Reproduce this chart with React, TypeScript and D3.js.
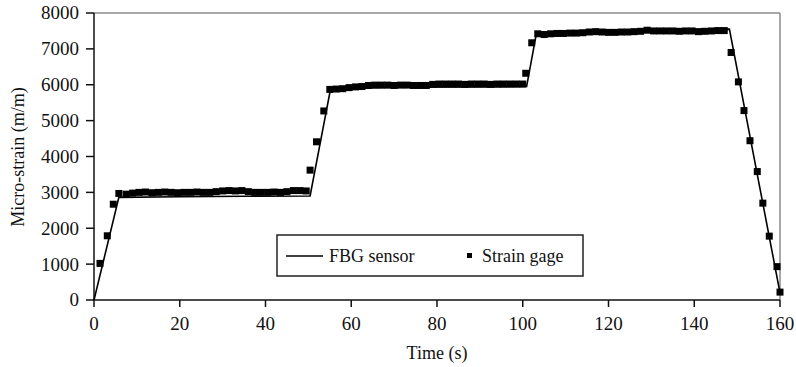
import React, { useEffect } from "react";
import * as d3 from "d3";

const xTicks = [0, 20, 40, 60, 80, 100, 120, 140, 160];
const yTicks = [0, 1000, 2000, 3000, 4000, 5000, 6000, 7000, 8000];

const fbgTime = [0, 5.8, 20, 35, 50.4, 55.2, 70, 85, 100.9, 103.2, 120, 135, 148.2, 160];
const fbgStrain = [0, 2860, 2880, 2890, 2900, 5900, 5930, 5940, 5950, 7440, 7490, 7530, 7550, 200];

const gageTime = [
  1.4, 3.1, 4.5, 5.8,
  7.5, 9, 10.5, 12, 13.5, 15, 16.5, 18, 19.5, 21, 22.5, 24, 25.5, 27, 28.5, 30, 31.5, 33, 34.5, 36, 37.5, 39, 40.5, 42, 43.5, 45, 46.5, 48, 49.5,
  50.4, 51.9, 53.6, 55,
  56.5, 58, 59.5, 61, 62.5, 64, 65.5, 67, 68.5, 70, 71.5, 73, 74.5, 76, 77.5, 79, 80.5, 82, 83.5, 85, 86.5, 88, 89.5, 91, 92.5, 94, 95.5, 97, 98.5, 100,
  100.7, 102.1, 103.5,
  105, 106.5, 108, 109.5, 111, 112.5, 114, 115.5, 117, 118.5, 120, 121.5, 123, 124.5, 126, 127.5, 129, 130.5, 132, 133.5, 135, 136.5, 138, 139.5, 141, 142.5, 144, 145.5, 147,
  148.6, 150.3, 151.6, 153, 154.7, 156, 157.5, 159.3, 160,
];
const gageStrain = [
  1020, 1790, 2670, 2970,
  2950, 2980, 3000, 3010, 2990, 3000, 3010, 3000, 2990, 3000, 3000, 3010, 3000, 3000, 3020, 3040, 3050, 3040, 3050, 3020, 3000, 3000, 3000, 3010, 3000, 3020, 3050, 3050, 3040,
  3620, 4410, 5270, 5870,
  5880, 5890, 5920, 5940, 5950, 5980, 5990, 5990, 5990, 5980, 5990, 5990, 5980, 5980, 5980, 6010, 6020, 6020, 6020, 6020, 6010, 6020, 6020, 6020, 6010, 6020, 6020, 6020, 6020, 6020,
  6320, 7170, 7420,
  7400, 7420, 7430, 7430, 7440, 7440, 7450, 7470, 7480, 7470, 7460, 7460, 7470, 7470, 7480, 7490, 7520, 7500, 7500, 7500, 7500, 7490, 7500, 7500, 7480, 7490, 7500, 7510, 7510,
  6900, 6080, 5280, 4440, 3580, 2700, 1780, 930, 220,
];

const W = 796;
const H = 367;
const left = 94;
const right = 780;
const top = 13;
const bottom = 300;
const FONT = "'Liberation Serif', 'Times New Roman', serif";

export default function App() {
  useEffect(() => {
    document.body.style.margin = "0";
  }, []);

  const x = d3.scaleLinear().domain([0, 160]).range([left, right]);
  const y = d3.scaleLinear().domain([0, 8000]).range([bottom, top]);

  const fbg = fbgTime.map((t, i) => [t, fbgStrain[i]] as [number, number]);
  const gage = gageTime.map((t, i) => [t, gageStrain[i]] as [number, number]);

  const line = d3
    .line<[number, number]>()
    .x((d) => x(d[0]))
    .y((d) => y(d[1]));

  const sq = 7;

  return (
    <svg width={W} height={H} style={{ display: "block", background: "#fff" }} fontFamily={FONT}>
      <rect x={0} y={0} width={W} height={H} fill="#fff" />
      {/* frame */}
      <line x1={left} x2={right} y1={top} y2={top} stroke="#8a8a8a" strokeWidth={1.5} />
      <line x1={right} x2={right} y1={top} y2={bottom} stroke="#8a8a8a" strokeWidth={1.5} />
      {/* axes */}
      <line x1={left} x2={left} y1={top} y2={bottom} stroke="#111" strokeWidth={1.5} />
      <line x1={left} x2={right} y1={bottom} y2={bottom} stroke="#111" strokeWidth={1.5} />
      {yTicks.map((v) => (
        <g key={"y" + v}>
          <line x1={left - 8} x2={left} y1={y(v)} y2={y(v)} stroke="#111" strokeWidth={1.5} />
          <text x={left - 15} y={y(v)} dy="0.34em" textAnchor="end" fontSize={19} fill="#111">
            {v}
          </text>
        </g>
      ))}
      {xTicks.map((v) => (
        <g key={"x" + v}>
          <line x1={x(v)} x2={x(v)} y1={bottom} y2={bottom + 7} stroke="#111" strokeWidth={1.5} />
          <text x={x(v)} y={bottom + 30} textAnchor="middle" fontSize={19} fill="#111">
            {v}
          </text>
        </g>
      ))}
      <text x={437} y={359} textAnchor="middle" fontSize={18} fill="#111">
        Time (s)
      </text>
      <text
        transform={`translate(24, ${157}) rotate(-90)`}
        textAnchor="middle"
        fontSize={18}
        fill="#111"
      >
        Micro-strain (m/m)
      </text>
      {/* data */}
      <path d={line(fbg) || ""} fill="none" stroke="#000" strokeWidth={1.6} />
      {gage.map((d, i) => (
        <rect
          key={"g" + i}
          x={x(d[0]) - sq / 2}
          y={y(d[1]) - sq / 2}
          width={sq}
          height={sq}
          fill="#000"
        />
      ))}
      {/* legend */}
      <rect x={277} y={235} width={306} height={41} fill="#fff" stroke="#222" strokeWidth={1.5} />
      <line x1={286} x2={323} y1={256} y2={256} stroke="#000" strokeWidth={1.6} />
      <text x={329} y={262} fontSize={18} fill="#111">
        FBG sensor
      </text>
      <rect x={467} y={253} width={5} height={5} fill="#000" />
      <text x={482} y={262} fontSize={18} fill="#111">
        Strain gage
      </text>
    </svg>
  );
}
